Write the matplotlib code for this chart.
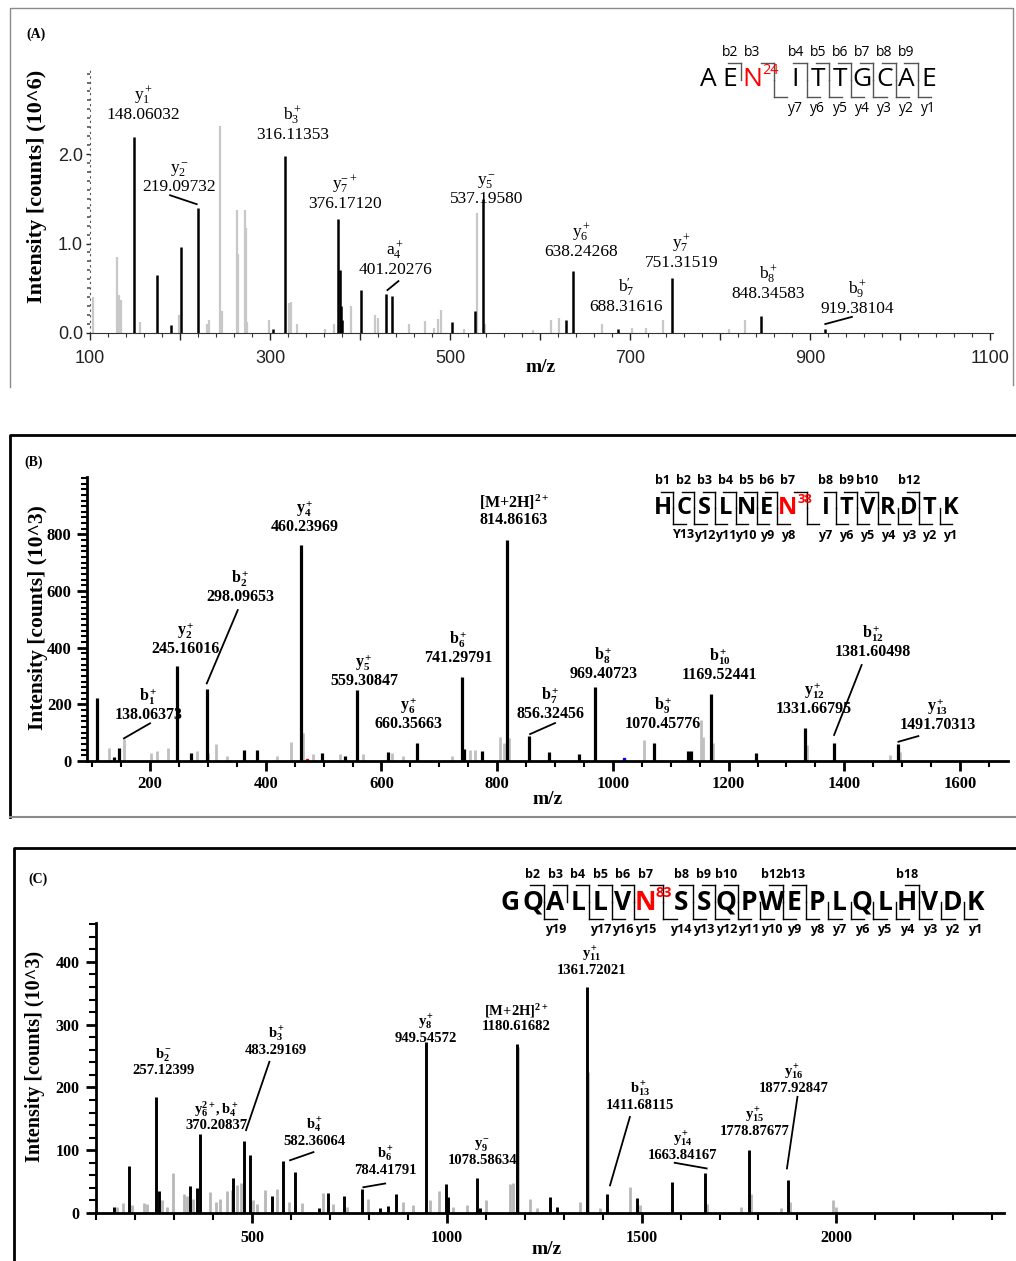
import matplotlib.pyplot as plt
from matplotlib.ticker import MultipleLocator, FixedLocator, FuncFormatter

W, H = 1016, 1261

# ---------------- panel A (intensity in 10^6 counts) ----------------
a_black_mz = [149, 174, 190, 201, 219.5, 303, 316.5, 376, 377.3, 378.6, 380, 400.7,
              428.9, 435, 501.8, 527.8, 536, 628.9, 636.5, 686, 747, 845, 916]
a_black_int = [2.19, 0.65, 0.09, 0.96, 1.40, 0.05, 1.98, 1.27, 0.70, 0.30, 0.15, 0.48,
               0.44, 0.41, 0.12, 0.25, 1.50, 0.14, 0.69, 0.04, 0.62, 0.19, 0.04]
a_gray_mz = [103, 129.6, 131.9, 134.8, 156, 198.5, 229.6, 232.6, 244.4, 246.3, 263, 264.5,
             271.9, 272.8, 274.5, 299.3, 320.7, 322.8, 329.6, 361, 371, 389.6, 416.7, 419.6,
             454.8, 472.2, 482, 487, 489.6, 515.6, 530.4, 538.5, 592, 611.9, 620.4, 668.5,
             701.9, 717.8, 736.3, 809.3, 827]
a_gray_int = [0.40, 0.85, 0.43, 0.37, 0.12, 0.20, 0.10, 0.15, 2.31, 0.25, 1.37, 0.88,
              1.37, 1.17, 0.12, 0.15, 0.33, 0.35, 0.10, 0.05, 0.10, 0.30, 0.20, 0.17,
              0.10, 0.13, 0.06, 0.16, 0.26, 0.05, 1.34, 0.10, 0.03, 0.15, 0.17, 0.10,
              0.06, 0.06, 0.15, 0.04, 0.15]
a_ions = ["y_1^+", "b_3^+", "y_2^-", "y_7^{-+}", "y_5^-", "a_4^+", "y_6^+", "y_7^+",
          "b_7^{\\prime}", "b_8^+", "b_9^+"]
a_mz_txt = ["148.06032", "316.11353", "219.09732", "376.17120", "537.19580", "401.20276",
            "638.24268", "751.31519", "688.31616", "848.34583", "919.38104"]
a_lab_x = [158.9, 325, 198.9, 383.3, 540, 438.9, 645.6, 756.7, 695.6, 853.3, 952.2]
a_lab_y = [2.35, 2.12, 1.54, 1.35, 1.41, 0.61, 0.82, 0.69, 0.20, 0.35, 0.18]
a_leaders = [(188.9, 1.54, 218.5, 1.44), (430.4, 0.48, 442.6, 0.58), (916.7, 0.10, 946.3, 0.18)]

# ---------------- panel B (intensity in 10^3 counts) ----------------
b_black_mz = [108.9, 137.8, 147, 247, 270, 298, 362.5, 384.4, 460.5, 496.8, 537, 558.4,
              610.9, 661, 738.8, 743, 773.3, 816.6, 855.7, 890, 942, 969.2, 1071, 1130.6,
              1134.6, 1169.8, 1247, 1332.2, 1382.4, 1493.6]
b_black_int = [221, 15, 47, 335, 29, 256, 39, 39, 762, 27, 18, 250,
               33, 62, 297, 42, 36, 782, 88, 33, 25, 262, 62, 36,
               36, 236, 27, 118, 62, 59]
b_gray_mz = [129.7, 155, 201, 212.6, 230.6, 280.7, 300.8, 314, 332.6, 419, 443.2, 464,
             482.3, 528.4, 568.7, 617.8, 637.9, 721.5, 753, 761.8, 805, 811, 820.6, 1053.9,
             1152, 1156.5, 1173.7, 1336, 1479, 1496.5]
b_gray_int = [45, 77, 27, 36, 47, 36, 27, 59, 18, 18, 68, 100,
              24, 24, 24, 29, 18, 18, 39, 39, 84, 62, 80, 73,
              145, 86, 62, 56, 21, 33]
b_ions = ["b_1^+", "y_2^+", "b_2^+", "y_4^+", "y_5^+", "y_6^+", "b_6^+", "[M{+}2H]^{2+}",
          "b_7^+", "b_8^+", "b_9^+", "b_{10}^+", "y_{12}^+", "b_{12}^+", "y_{13}^+"]
b_mz_txt = ["138.06373", "245.16016", "298.09653", "460.23969", "559.30847", "660.35663",
            "741.29791", "814.86163", "856.32456", "969.40723", "1070.45776", "1169.52441",
            "1331.66795", "1381.60498", "1491.70313"]
b_lab_x = [197, 262, 356.5, 468, 570, 647, 733, 829, 891.5, 983.6, 1087, 1185, 1348, 1449, 1561]
b_lab_y = [134, 368, 550, 797, 256, 103, 335, 822, 139, 280, 103, 276, 156, 356, 98]
b_leaders = [(154.9, 80, 199.9, 133), (298, 274, 351.6, 533), (856.9, 95, 900, 134),
             (1382.4, 92, 1430, 339), (1493.6, 68, 1528, 88)]

# ---------------- panel C (intensity in 10^3 counts) ----------------
c_black_mz = [145, 183.6, 254.6, 262, 340, 358.7, 367.4, 452.8, 481, 495.6, 551, 581,
              610, 671, 695, 736.7, 782, 829, 850, 869, 947, 998, 1002.6, 1077, 1085,
              1179.5, 1265, 1282, 1359, 1410, 1487, 1577, 1662, 1776, 1876]
c_black_int = [10, 74.5, 185, 35, 42.6, 40, 126.6, 56.5, 115, 92, 26.6, 83,
               65, 8, 32, 26.6, 39, 8, 11, 30, 272.7, 45.7, 25.5, 55, 8,
               269, 25.5, 10, 360, 30, 24.5, 49.5, 63, 101, 53]
c_gray_mz = [153.8, 169, 192, 222, 230.8, 269, 282, 296.4, 324.6, 333, 350, 393, 408.5,
             419, 436, 450, 463, 472, 504, 513, 534, 564, 594, 628, 683.6, 709, 743.6,
             799, 888.7, 914, 957, 981, 1017, 1051, 1101, 1162.3, 1171, 1182, 1213.6,
             1230.8, 1341.8, 1363, 1393, 1470, 1495.6, 1666.7, 1756, 1782, 1859, 1880,
             1991, 2000]
c_gray_int = [10, 16, 13, 16, 14, 21, 10, 63, 30, 27, 23, 33, 17,
              23, 35, 37, 45, 47, 21, 14, 36, 38, 17, 16, 32, 14, 10,
              23, 17, 13, 20, 35, 10, 13, 21, 45.7, 47, 265, 23,
              8, 17.5, 225, 8, 41.5, 12, 14, 10, 31, 8, 17,
              20, 10]
c_ions = ["b_2^-", "y_6^{2+},b_4^+", "b_3^+", "b_4^+", "b_6^+", "y_8^+", "y_9^-",
          "[M{+}2H]^{2+}", "y_{11}^+", "b_{13}^+", "y_{14}^+", "y_{15}^+", "y_{16}^+"]
c_mz_txt = ["257.12399", "370.20837", "483.29169", "582.36064", "784.41791", "949.54572",
            "1078.58634", "1180.61682", "1361.72021", "1411.68115", "1663.84167",
            "1778.87677", "1877.92847"]
c_lab_x = [273.3, 408.5, 562, 660.5, 842, 947, 1092, 1179.5, 1372, 1496, 1605, 1790, 1890]
c_lab_y = [217, 129, 249, 103, 57, 267, 73, 287, 376, 161, 81, 119, 188]
c_leaders = [(485, 132, 545, 241), (598, 84, 658, 97), (786, 41, 842, 47),
             (1419, 44, 1470, 153), (1585, 80, 1667, 71), (1873, 71, 1900, 185)]

# peptide sequences
seq_a = "AENITTGCAE"
seq_b = "HCSLNENITVRDTK"
seq_c = "GQALLVNSSQPWEPLQLHVDK"

plt.rcParams['mathtext.fontset'] = 'custom'
plt.rcParams['mathtext.rm'] = 'Liberation Serif'
plt.rcParams['mathtext.it'] = 'Liberation Serif:italic'
plt.rcParams['mathtext.bf'] = 'Liberation Serif:bold'

fig = plt.figure(figsize=(W / 100, H / 100), dpi=100)

# overlay in pixel units for frames and sequence drawings
deco = fig.add_axes([0, 0, 1, 1])
deco.set_xlim(0, W)
deco.set_ylim(H, 0)
deco.axis('off')


def panel(l, t, r, b):
    ax = fig.add_axes([l / W, 1 - b / H, (r - l) / W, (b - t) / H])
    ax.patch.set_alpha(0)
    ax.spines['top'].set_visible(False)
    ax.spines['right'].set_visible(False)
    return ax


def labels(ax, ions, mzs, xs, ys, leaders, size, weight, lcol='black'):
    for ion, mz, x, y in zip(ions, mzs, xs, ys):
        ax.text(x, y, "$\\mathregular{" + ion + "}$\n" + mz, ha='center', va='bottom',
                fontsize=size, weight=weight, family='Liberation Serif', linespacing=1.0)
    for x1, y1, x2, y2 in leaders:
        ax.plot([x1, x2], [y1, y2], color=lcol, lw=1.3)


def sequence(seq, x0, step, gap, hi, sup, yc, half, b_sites, y_sites, size, lsize,
             weight, fam, lcol, y_names=None):
    n = len(seq)
    xs = [x0 + i * step + (gap if i > hi else 0) for i in range(n)]
    for i, (ch, x) in enumerate(zip(seq, xs)):
        deco.text(x, yc, ch, ha='center', va='center', fontsize=size, family=fam,
                  weight=weight, color='red' if i == hi else 'black')
    deco.text(xs[hi] + step * 0.45, yc - half * 0.55, sup, ha='left', va='center',
              fontsize=size * 0.55, family=fam, weight=weight, color='red')
    top, bot = yc - half, yc + half
    for k in b_sites:
        bx = (xs[k - 1] + xs[k]) / 2
        deco.plot([bx, bx], [yc, top], color=lcol, lw=1)
        deco.plot([bx, bx - 0.6 * step], [top, top], color=lcol, lw=1)
        deco.text(xs[k - 1], top - 11, "b%d" % k, ha='center', va='center',
                  fontsize=lsize, family=fam, weight=weight)
    for k in y_sites:
        bx = (xs[n - k - 1] + xs[n - k]) / 2
        deco.plot([bx, bx], [yc, bot], color=lcol, lw=1)
        deco.plot([bx, bx + 0.6 * step], [bot, bot], color=lcol, lw=1)
        name = y_names.get(k, "y%d" % k) if y_names else "y%d" % k
        deco.text(xs[n - k], bot + 11, name, ha='center', va='center',
                  fontsize=lsize, family=fam, weight=weight)


# ---------------- frames ----------------
deco.plot([10, 10, 1013, 1013], [387, 8, 8, 385], color='#8a8a8a', lw=1)
deco.plot([10, 10, 1016], [817, 435, 435], color='black', lw=2)
deco.plot([10, 1016], [817, 817], color='#8a8a8a', lw=1.5)
deco.plot([14, 14, 1016], [1261, 848, 848], color='black', lw=2)

# ================= panel A =================
ax = panel(90, 70, 993, 333)
ax.vlines(a_gray_mz, 0, a_gray_int, color='#c8c8c8', lw=1.6)
ax.vlines(a_black_mz, 0, a_black_int, color='black', lw=1.8)
ax.set_xlim(100, 1103)
ax.set_ylim(0, 2.94)
ax.xaxis.set_major_locator(MultipleLocator(100))
ax.xaxis.set_minor_locator(MultipleLocator(20))
ax.xaxis.set_major_formatter(FuncFormatter(lambda v, p: "%d" % v if int(v) % 200 == 100 else ""))
ax.yaxis.set_major_locator(FixedLocator([0, 1, 2]))
ax.yaxis.set_minor_locator(MultipleLocator(0.1))
ax.yaxis.set_major_formatter(FuncFormatter(lambda v, p: "%.1f" % v))
ax.spines['left'].set_linestyle((0, (1, 4)))
ax.spines['left'].set_color('#555555')
ax.spines['bottom'].set_color('#333333')
ax.tick_params(axis='x', which='major', length=5, width=1, pad=7, labelsize=13, colors='#222222')
ax.tick_params(axis='x', which='minor', length=3, width=0.8, colors='#333333')
ax.tick_params(axis='y', which='major', length=3, width=1, pad=2, labelsize=13, colors='#222222')
ax.tick_params(axis='y', which='minor', length=2, width=1.2, colors='#555555')
for t in ax.get_xticklabels() + ax.get_yticklabels():
    t.set_family('Liberation Sans')
labels(ax, a_ions, a_mz_txt, a_lab_x, a_lab_y, a_leaders, 12.5, 'normal')
deco.text(36, 34, "(A)", ha='center', va='center', fontsize=10, weight='bold', family='Liberation Serif')
deco.text(37, 186, "Intensity [counts] (10^6)", rotation=90, ha='center', va='center',
          fontsize=16, weight='bold', family='Liberation Serif')
deco.text(541, 368, "m/z", ha='center', va='center', fontsize=14, weight='bold', family='Liberation Serif')
sequence(seq_a, 708, 22.2, 21, 2, "24", 80, 17, range(2, 10), range(1, 8), 19, 10,
         'normal', 'Open Sans', '#555555')

# ================= panel B =================
ax = panel(87, 477, 1008, 761)
ax.vlines(b_gray_mz, 0, b_gray_int, color='#c0c0c0', lw=2)
ax.vlines(b_black_mz, 0, b_black_int, color='black', lw=2.3)
ax.plot([471], [3], 's', color='red', ms=2)
ax.plot([1019], [8], 's', color='blue', ms=2)
ax.set_xlim(91, 1683)
ax.set_ylim(0, 1003)
ax.xaxis.set_major_locator(MultipleLocator(200))
ax.xaxis.set_minor_locator(MultipleLocator(50))
ax.yaxis.set_major_locator(FixedLocator([0, 200, 400, 600, 800]))
ax.yaxis.set_minor_locator(MultipleLocator(20))
for s in ('left', 'bottom'):
    ax.spines[s].set_linewidth(2)
ax.tick_params(which='major', length=7, width=2, pad=4, labelsize=12)
ax.tick_params(which='minor', length=4, width=1.5)
for t in ax.get_xticklabels() + ax.get_yticklabels():
    t.set_family('Liberation Serif')
    t.set_weight('bold')
labels(ax, b_ions, b_mz_txt, b_lab_x, b_lab_y, b_leaders, 11.5, 'bold')
deco.text(34, 462, "(B)", ha='center', va='center', fontsize=10, weight='bold', family='Liberation Serif')
deco.text(38, 618, "Intensity [counts] (10^3)", rotation=90, ha='center', va='center',
          fontsize=15.5, weight='bold', family='Liberation Serif')
deco.text(548, 800, "m/z", ha='center', va='center', fontsize=14, weight='bold', family='Liberation Serif')
sequence(seq_b, 663, 20.8, 17, 6, "38", 508, 16, [1, 2, 3, 4, 5, 6, 7, 8, 9, 10, 12],
         range(1, 14), 17, 9, 'bold', 'Open Sans', 'black', y_names={13: "Y13"})

# ================= panel C =================
ax = panel(96, 923, 1004, 1213)
ax.vlines(c_gray_mz, 0, c_gray_int, color='#b8b8b8', lw=2)
ax.vlines(c_black_mz, 0, c_black_int, color='black', lw=2.1)
ax.set_xlim(100, 2430)
ax.set_ylim(0, 462)
ax.xaxis.set_major_locator(MultipleLocator(500))
ax.xaxis.set_minor_locator(MultipleLocator(100))
ax.yaxis.set_major_locator(MultipleLocator(100))
ax.yaxis.set_minor_locator(MultipleLocator(20))
for s in ('left', 'bottom'):
    ax.spines[s].set_linewidth(2)
ax.tick_params(which='major', length=7, width=2, pad=5, labelsize=11.5)
ax.tick_params(which='minor', length=5, width=1.5)
for t in ax.get_xticklabels() + ax.get_yticklabels():
    t.set_family('Liberation Serif')
    t.set_weight('bold')
labels(ax, c_ions, c_mz_txt, c_lab_x, c_lab_y, c_leaders, 10.5, 'bold')
deco.text(38, 879, "(C)", ha='center', va='center', fontsize=10, weight='bold', family='Liberation Serif')
deco.text(35, 1056, "Intensity [counts] (10^3)", rotation=90, ha='center', va='center',
          fontsize=14.5, weight='bold', family='Liberation Serif')
deco.text(547, 1250, "m/z", ha='center', va='center', fontsize=14, weight='bold', family='Liberation Serif')
sequence(seq_c, 510, 22.6, 13, 6, "83", 902, 17,
         [2, 3, 4, 5, 6, 7, 8, 9, 10, 12, 13, 18],
         [19, 17, 16, 15, 14, 13, 12, 11, 10, 9, 8, 7, 6, 5, 4, 3, 2, 1],
         19, 9, 'bold', 'Open Sans', 'black')

fig.savefig("out.png", dpi=100)
